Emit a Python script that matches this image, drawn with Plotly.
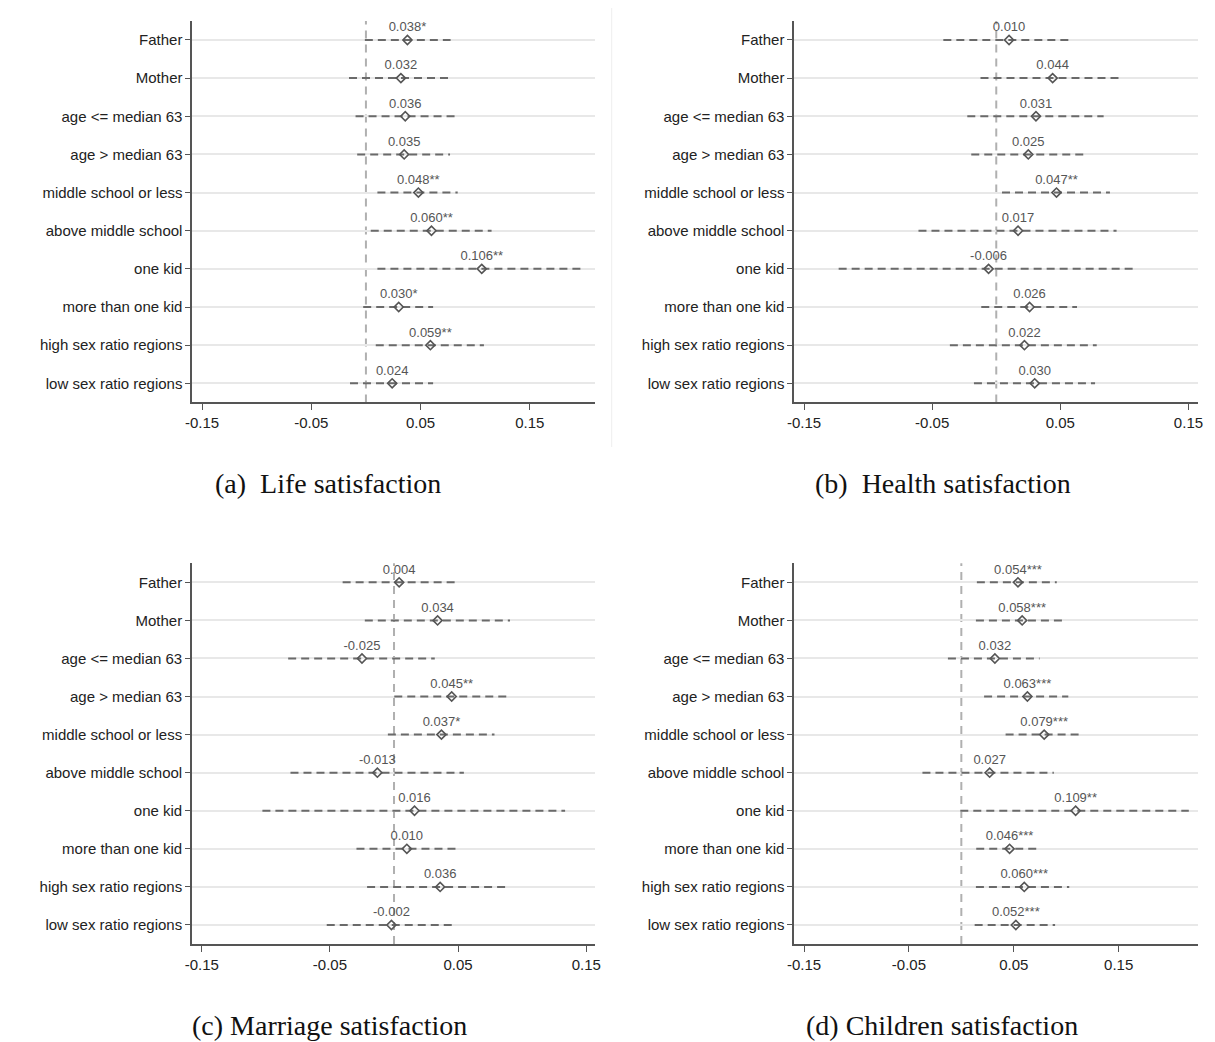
import plotly.graph_objects as go

categories = ["Father", "Mother", "age <= median 63", "age > median 63",
              "middle school or less", "above middle school", "one kid",
              "more than one kid", "high sex ratio regions", "low sex ratio regions"]

# (a) Life satisfaction
life_coef = [0.038, 0.032, 0.036, 0.035, 0.048, 0.060, 0.106, 0.030, 0.059, 0.024]
life_stars = ["*", "", "", "", "**", "**", "**", "*", "**", ""]
life_lo = [-0.001, -0.0155, -0.0095, -0.008, 0.0105, 0.0044, 0.0105, -0.0025, 0.009, -0.0146]
life_hi = [0.0775, 0.076, 0.0815, 0.077, 0.084, 0.115, 0.198, 0.0615, 0.108, 0.0615]

# (b) Health satisfaction
health_coef = [0.010, 0.044, 0.031, 0.025, 0.047, 0.017, -0.006, 0.026, 0.022, 0.030]
health_stars = ["", "", "", "", "**", "", "", "", "", ""]
health_lo = [-0.0413, -0.0123, -0.0226, -0.0195, 0.0045, -0.0607, -0.123, -0.0117, -0.0362, -0.0174]
health_hi = [0.0573, 0.0967, 0.0838, 0.0684, 0.0887, 0.0939, 0.1093, 0.063, 0.0784, 0.0771]

# (c) Marriage satisfaction
marriage_coef = [0.004, 0.034, -0.025, 0.045, 0.037, -0.013, 0.016, 0.010, 0.036, -0.002]
marriage_stars = ["", "", "", "**", "*", "", "", "", "", ""]
marriage_lo = [-0.0401, -0.0228, -0.0826, 0.0002, -0.0048, -0.0808, -0.1027, -0.0293, -0.021, -0.0525]
marriage_hi = [0.048, 0.0905, 0.0318, 0.0885, 0.0784, 0.0545, 0.1335, 0.048, 0.0885, 0.0472]

# (d) Children satisfaction
children_coef = [0.054, 0.058, 0.032, 0.063, 0.079, 0.027, 0.109, 0.046, 0.060, 0.052]
children_stars = ["***", "***", "", "***", "***", "", "**", "***", "***", "***"]
children_lo = [0.0148, 0.0139, -0.0128, 0.0217, 0.0422, -0.0371, -0.001, 0.0142, 0.0139, 0.0127]
children_hi = [0.091, 0.0973, 0.0746, 0.102, 0.1124, 0.0882, 0.2169, 0.0724, 0.1029, 0.0894]

captions = ["(a)  Life satisfaction", "(b)  Health satisfaction",
            "(c) Marriage satisfaction", "(d) Children satisfaction"]
tick_vals = [-0.15, -0.05, 0.05, 0.15]
tick_text = ["-0.15", "-0.05", "0.05", "0.15"]

panels = [
    (life_coef, life_stars, life_lo, life_hi),
    (health_coef, health_stars, health_lo, health_hi),
    (marriage_coef, marriage_stars, marriage_lo, marriage_hi),
    (children_coef, children_stars, children_lo, children_hi),
]

OFF = 8  # page body margin
W, H = 1215 - OFF, 1042 - OFF


def px(v):
    return (v - OFF) / W


def py(v):
    return 1 - (v - OFF) / H


x_domains = [[px(187), px(594.3)], [px(795), px(1202.7)],
             [px(186.7), px(594.3)], [px(795), px(1202.7)]]
y_domains = [[py(402.4), py(20.9)], [py(402.4), py(20.9)],
             [py(944.0), py(563.3)], [py(944.0), py(563.3)]]
x_ranges = [[-0.159, 0.2101], [-0.1577, 0.1573], [-0.1577, 0.1572], [-0.1594, 0.2255]]
caption_pos = [(324, 483), (945, 483), (326, 1025), (944, 1025)]

FONT = "Liberation Sans, Arial, sans-serif"
fig = go.Figure()

for i, (coef, stars, lo, hi) in enumerate(panels):
    sfx = "" if i == 0 else str(i + 1)
    xa, ya = "x" + sfx, "y" + sfx
    lx, ly = [], []
    for c, l, h in zip(categories, lo, hi):
        lx += [l, h, None]
        ly += [c, c, None]
    fig.add_trace(go.Scatter(x=lx, y=ly, mode="lines", xaxis=xa, yaxis=ya,
                             line=dict(color="#6a6a6a", width=2, dash="8px,5px"),
                             hoverinfo="skip", showlegend=False))
    labels = [f"{v:.3f}{s}" for v, s in zip(coef, stars)]
    fig.add_trace(go.Scatter(x=coef, y=categories, mode="markers+text", xaxis=xa, yaxis=ya,
                             text=labels, textposition="top center",
                             textfont=dict(family=FONT, size=13, color="#555555"),
                             marker=dict(symbol="diamond-open", size=7,
                                         color="#555555", line=dict(width=1.6, color="#555555")),
                             showlegend=False))
    fig.add_shape(type="line", xref=xa, yref=ya + " domain", x0=0, x1=0, y0=0, y1=1,
                  line=dict(color="#b0b0b0", width=2, dash="8px,6px"), layer="below")
    fig.layout["xaxis" + sfx] = dict(
        domain=x_domains[i], anchor=ya, range=x_ranges[i],
        tickvals=tick_vals, ticktext=tick_text, showgrid=False, zeroline=False,
        showline=True, linecolor="#555555", linewidth=1.5,
        ticks="outside", ticklen=6, tickcolor="#555555", tickwidth=1.2,
        tickfont=dict(family=FONT, size=15, color="#222222"))
    fig.layout["yaxis" + sfx] = dict(
        domain=y_domains[i], anchor=xa, type="category",
        categoryorder="array", categoryarray=categories,
        range=[9.5, -0.5], showgrid=True, gridcolor="#e8e8e8", gridwidth=2,
        zeroline=False, showline=True, linecolor="#555555", linewidth=1.5,
        ticks="outside", ticklen=5, tickcolor="#555555", tickwidth=1.2,
        tickfont=dict(family=FONT, size=15, color="#222222"))
    cx, cy = caption_pos[i]
    fig.add_annotation(text=captions[i], xref="paper", yref="paper",
                       x=px(cx), y=py(cy), xanchor="center", yanchor="middle",
                       showarrow=False,
                       font=dict(family="Liberation Serif, Times New Roman, serif",
                                 size=28, color="#111111"))

# faint panel border line right of panel (a)
fig.add_shape(type="line", xref="paper", yref="paper", x0=px(610.7), x1=px(610.7),
              y0=py(447), y1=py(4), line=dict(color="#eeeeee", width=1))

fig.update_layout(width=W, height=H, margin=dict(l=0, r=0, t=0, b=0),
                  paper_bgcolor="white", plot_bgcolor="white")
fig.write_html("out.html")
